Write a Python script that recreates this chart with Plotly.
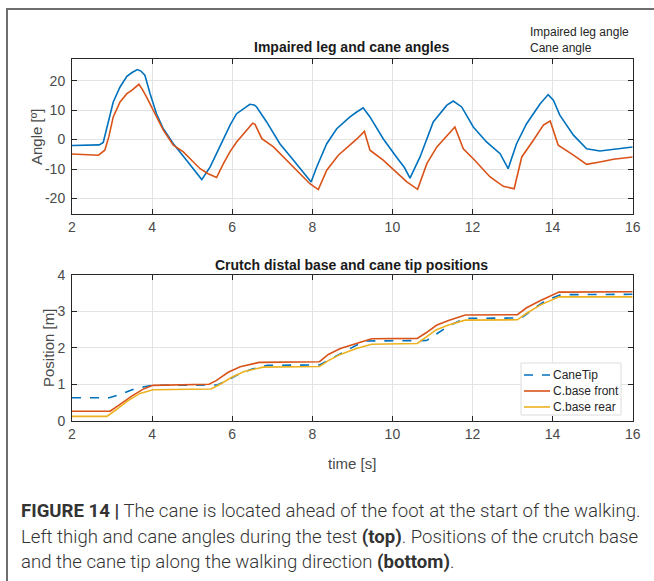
import plotly.graph_objects as go

# ---- Impaired leg and cane angles (deg) ----
leg_t = [2.0, 2.3, 2.68, 2.78, 2.9, 3.03, 3.2, 3.37, 3.5, 3.63, 3.72, 3.82, 3.95, 4.11, 4.28,
         4.53, 4.86, 5.05, 5.24, 5.45, 5.6, 5.78, 5.95, 6.11, 6.3, 6.44, 6.55, 6.61, 6.86, 7.19,
         7.53, 7.78, 7.97, 8.11, 8.36, 8.61, 8.94, 9.1, 9.27, 9.44, 9.77, 10.1, 10.3, 10.44, 10.69,
         11.02, 11.19, 11.36, 11.52, 11.73, 12.02, 12.35, 12.69, 12.89, 13.1, 13.35, 13.69, 13.89,
         14.02, 14.18, 14.52, 14.85, 15.18, 15.52, 16.0]
leg_angle = [-2.0, -1.9, -1.8, -1.0, 6.0, 12.8, 17.9, 21.5, 22.8, 23.8, 23.3, 21.9, 15.6, 8.8, 3.7,
             -1.4, -7.0, -10.3, -13.6, -9.3, -5.0, 0.3, 5.0, 8.8, 10.5, 12.0, 11.8, 11.1, 6.0, -1.4,
             -7.0, -11.0, -14.4, -9.3, -1.4, 3.7, 7.7, 9.3, 10.8, 7.7, 0.3, -5.9, -9.5, -13.1, -5.9,
             6.0, 8.8, 11.7, 13.1, 11.1, 4.3, -0.8, -4.8, -9.9, -1.4, 5.4, 12.2, 15.3,
             13.4, 8.3, 1.5, -3.1, -3.9, -3.3, -2.5]

cane_t = [2.0, 2.3, 2.66, 2.82, 2.92, 3.03, 3.2, 3.37, 3.5, 3.67, 3.76, 3.86, 4.07, 4.28, 4.53,
          4.78, 5.0, 5.2, 5.4, 5.61, 5.78, 5.95, 6.11, 6.3, 6.51, 6.57, 6.74, 7.03, 7.36, 7.69,
          7.94, 8.15, 8.36, 8.65, 8.94, 9.12, 9.30, 9.44, 9.77, 10.1, 10.36, 10.63, 10.86, 11.11,
          11.44, 11.56, 11.77, 12.02, 12.44, 12.77, 13.04, 13.23, 13.52, 13.77, 13.94, 14.14,
          14.52, 14.85, 15.18, 15.52, 16.0]
cane_angle = [-4.9, -5.1, -5.3, -3.6, 1.0, 7.7, 12.8, 15.6, 16.8, 18.8, 17.0, 14.5, 8.8, 3.2, -1.9,
              -4.2, -7.2, -9.9, -11.6, -12.9, -8.2, -4.0, -0.8, 2.2, 5.6, 5.2, 0.3, -2.5, -7.0, -11.6,
              -15.0, -17.0, -10.4, -5.3, -1.9, 0.3, 2.8, -3.6, -7.0, -11.0, -14.4, -16.9, -8.2, -2.5,
              2.6, 4.3, -3.1, -6.5, -12.7, -15.9, -16.7, -5.9, -0.2, 4.9, 6.3, -1.9,
              -5.3, -8.4, -7.6, -6.7, -5.9]

# ---- Crutch distal base and cane tip positions (m) ----
tip_t = [2.0, 2.93, 3.2, 3.5, 3.8, 4.0, 5.63, 5.9, 6.2, 6.5, 6.88, 8.18, 8.5, 8.8, 9.1, 9.37,
         10.85, 11.1, 11.4, 11.82, 13.22, 13.5, 13.8, 14.2, 16.0]
tip_pos = [0.63, 0.63, 0.72, 0.85, 0.93, 0.97, 0.98, 1.12, 1.3, 1.42, 1.52, 1.53, 1.72, 1.9, 2.07,
           2.19, 2.2, 2.38, 2.6, 2.81, 2.82, 3.05, 3.28, 3.46, 3.47]

front_t = [2.0, 2.95, 3.2, 3.5, 3.8, 4.02, 5.42, 5.6, 5.9, 6.2, 6.67, 8.18, 8.4, 8.7, 9.1, 9.48,
           10.62, 10.85, 11.1, 11.4, 11.82, 13.12, 13.35, 13.7, 14.16, 16.0]
front_pos = [0.26, 0.26, 0.45, 0.68, 0.88, 0.97, 1.0, 1.1, 1.33, 1.48, 1.6, 1.62, 1.82, 1.98, 2.12,
             2.25, 2.26, 2.42, 2.62, 2.75, 2.9, 2.91, 3.1, 3.3, 3.53, 3.54]

rear_t = [2.0, 2.87, 3.1, 3.4, 3.7, 4.02, 5.47, 5.7, 6.0, 6.3, 6.77, 8.18, 8.4, 8.7, 9.1, 9.48,
          10.62, 10.85, 11.1, 11.4, 11.82, 13.12, 13.35, 13.7, 14.16, 16.0]
rear_pos = [0.12, 0.12, 0.3, 0.55, 0.75, 0.85, 0.87, 1.0, 1.2, 1.35, 1.47, 1.49, 1.65, 1.82, 1.98,
            2.1, 2.12, 2.3, 2.5, 2.63, 2.76, 2.77, 2.95, 3.18, 3.4, 3.4]

x_ticks = [2, 4, 6, 8, 10, 12, 14, 16]
angle_ticks = [-20, -10, 0, 10, 20]
angle_labels = ["-20", "-10", "0", "10", "20"]
pos_ticks = [0, 1, 2, 3, 4]

BLUE, ORANGE, YELLOW = "#0072BD", "#D95319", "#EDB120"
FONT = "Liberation Sans"
AX = "#262626"
TICK = "#4a4a4a"
W, H = 654, 581

position_series = [
    ("CaneTip", tip_t, tip_pos, BLUE, "dash"),
    ("C.base front", front_t, front_pos, ORANGE, "solid"),
    ("C.base rear", rear_t, rear_pos, YELLOW, "solid"),
]

fig = go.Figure()
fig.add_trace(go.Scatter(x=leg_t, y=leg_angle, mode="lines", line=dict(color=BLUE, width=1.6),
                         name="Impaired leg angle", xaxis="x", yaxis="y"))
fig.add_trace(go.Scatter(x=cane_t, y=cane_angle, mode="lines", line=dict(color=ORANGE, width=1.6),
                         name="Cane angle", xaxis="x", yaxis="y"))
for name, t, pos, color, dash in position_series:
    fig.add_trace(go.Scatter(x=t, y=pos, mode="lines", name=name,
                             line=dict(color=color, width=1.6, dash=dash),
                             xaxis="x2", yaxis="y2"))


def px_x(p):
    return p / W


def px_y(p):
    return 1 - p / H


axis_common = dict(showline=True, linecolor=AX, linewidth=1, mirror="allticks",
                   ticks="inside", ticklen=5, tickcolor=AX, showgrid=True,
                   gridcolor="#e3e3e3", gridwidth=1, zeroline=False, automargin=False,
                   tickfont=dict(family=FONT, size=14, color=TICK))

xdom = [px_x(72), px_x(632.7)]
fig.update_layout(
    width=W, height=H, margin=dict(l=0, r=0, t=0, b=0, autoexpand=False),
    paper_bgcolor="white", plot_bgcolor="white", showlegend=False,
    font=dict(family=FONT, color=AX),
    xaxis=dict(domain=xdom, range=[2, 16], tickvals=x_ticks, anchor="y", **axis_common),
    yaxis=dict(domain=[px_y(214), px_y(59.3)], range=[-25.3, 27.3], tickvals=angle_ticks,
               ticktext=angle_labels, anchor="x", ticklabelstandoff=3, **axis_common),
    xaxis2=dict(domain=xdom, range=[2, 16], tickvals=x_ticks, anchor="y2", **axis_common),
    yaxis2=dict(domain=[px_y(420.7), px_y(275)], range=[0, 4], tickvals=pos_ticks,
                anchor="x2", ticklabelstandoff=3, **axis_common),
)

annotations = [
    dict(text="<b>Impaired leg and cane angles</b>", x=px_x(352), y=px_y(47),
         font=dict(size=14, color="#1a1a1a")),
    dict(text="<b>Crutch distal base and cane tip positions</b>", x=px_x(352), y=px_y(265),
         font=dict(size=14, color="#1a1a1a")),
    dict(text="Angle [º]", x=px_x(37), y=px_y(137), textangle=-90,
         font=dict(size=15, color=TICK)),
    dict(text="Position [m]", x=px_x(48), y=px_y(348), textangle=-90,
         font=dict(size=15, color=TICK)),
    dict(text="time [s]", x=px_x(352), y=px_y(463), font=dict(size=15, color=TICK)),
    dict(text="Impaired leg angle", x=px_x(528), y=px_y(32), xanchor="left",
         font=dict(size=12, color=AX)),
    dict(text="Cane angle", x=px_x(528), y=px_y(48), xanchor="left",
         font=dict(size=12, color=AX)),
]

# legend box for the position panel
shapes = [dict(type="rect", xref="paper", yref="paper",
               x0=px_x(521), x1=px_x(621), y0=px_y(415), y1=px_y(363),
               fillcolor="white", line=dict(color="#dcdcdc", width=1), layer="above")]
for i, (name, _, _, color, dash) in enumerate(position_series):
    yy = px_y(375 + 16 * i)
    shapes.append(dict(type="line", xref="paper", yref="paper", x0=px_x(524), x1=px_x(550),
                       y0=yy, y1=yy, line=dict(color=color, width=1.6, dash=dash),
                       layer="above"))
    annotations.append(dict(text=name, x=px_x(551), y=yy, xanchor="left",
                            font=dict(size=12, color=AX)))

caption = [
    "<b>FIGURE 14 |</b> The cane is located ahead of the foot at the start of the walking.",
    "Left thigh and cane angles during the test <b>(top)</b>. Positions of the crutch base",
    "and the cane tip along the walking direction <b>(bottom)</b>.",
]
for i, line in enumerate(caption):
    annotations.append(dict(text=line, x=px_x(19), y=px_y(511 + 25.5 * i), xanchor="left",
                            font=dict(family="Roboto", size=18.6, color="#333333", weight=300)))

for a in annotations:
    a.setdefault("xanchor", "center")
    a.update(xref="paper", yref="paper", yanchor="middle", showarrow=False)
    a["font"].setdefault("family", FONT)

# frame around the figure panel
shapes += [
    dict(type="line", xref="paper", yref="paper", x0=px_x(7), x1=px_x(7), y0=0, y1=px_y(9),
         line=dict(color="#6e6e6e", width=2)),
    dict(type="line", xref="paper", yref="paper", x0=px_x(6), x1=1, y0=px_y(9), y1=px_y(9),
         line=dict(color="#6e6e6e", width=2)),
]
fig.update_layout(annotations=annotations, shapes=shapes)

fig.write_html("out.html")
